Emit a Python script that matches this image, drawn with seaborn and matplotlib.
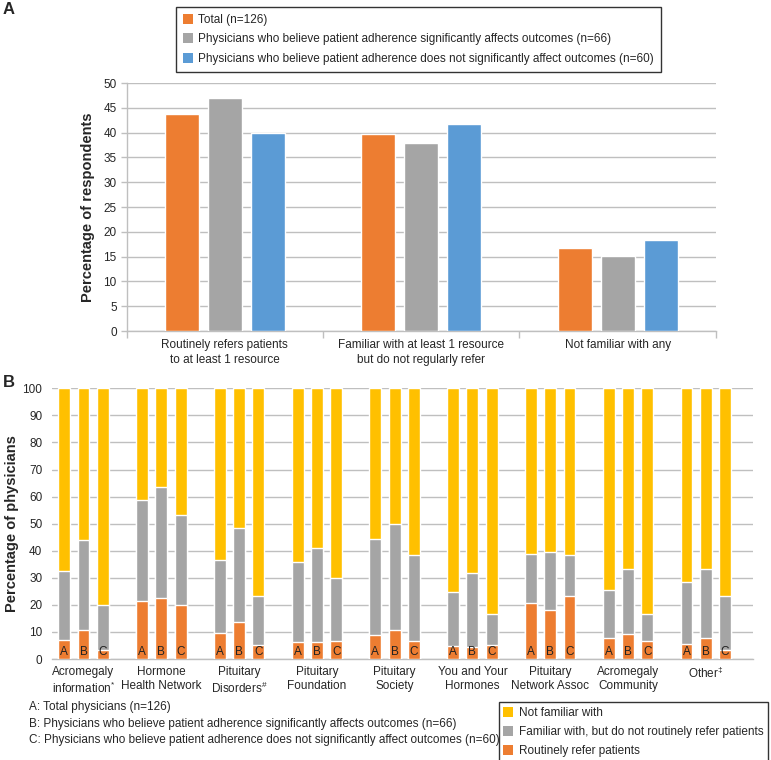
import numpy as np
import pandas as pd
import matplotlib
matplotlib.use("Agg")
import matplotlib.pyplot as plt
import seaborn as sns
from matplotlib import font_manager
from matplotlib.patches import Patch

# ---------------- Panel A data ----------------
a_categories = ["Routinely refers patients\nto at least 1 resource",
                "Familiar with at least 1 resource\nbut do not regularly refer",
                "Not familiar with any"]
a_groups = ["Total (n=126)",
            "Physicians who believe patient adherence significantly affects outcomes (n=66)",
            "Physicians who believe patient adherence does not significantly affect outcomes (n=60)"]
a_total = [43.7, 39.7, 16.7]
a_sig = [47.0, 37.9, 15.2]
a_notsig = [40.0, 41.7, 18.3]
a_yticks = list(range(0, 51, 5))

# ---------------- Panel B data ----------------
b_resources = ["Acromegaly\ninformation$^{*}$", "Hormone\nHealth Network", "Pituitary\nDisorders$^{\\#}$",
               "Pituitary\nFoundation", "Pituitary\nSociety", "You and Your\nHormones",
               "Pituitary\nNetwork Assoc", "Acromegaly\nCommunity", "Other$^{\\ddag}$"]
b_groups = ["A", "B", "C"]
# Routinely refer patients (orange)
refer_A = [7.1, 21.4, 9.5, 6.3, 8.7, 4.8, 20.6, 7.9, 5.6]
refer_B = [10.6, 22.7, 13.6, 6.1, 10.6, 4.5, 18.2, 9.1, 7.6]
refer_C = [3.3, 20.0, 5.0, 6.7, 6.7, 5.0, 23.3, 6.7, 3.3]
# Familiar with, but do not routinely refer (grey)
familiar_A = [25.4, 37.3, 27.0, 29.4, 35.7, 19.8, 18.3, 17.5, 23.0]
familiar_B = [33.3, 40.9, 34.9, 34.8, 39.4, 27.3, 21.2, 24.2, 25.7]
familiar_C = [16.7, 33.3, 18.3, 23.3, 31.6, 11.7, 15.0, 10.0, 20.0]
b_yticks = list(range(0, 101, 10))
b_notes = ["A: Total physicians (n=126)",
           "B: Physicians who believe patient adherence significantly affects outcomes (n=66)",
           "C: Physicians who believe patient adherence does not significantly affect outcomes (n=60)"]
b_legend = ["Not familiar with", "Familiar with, but do not routinely refer patients", "Routinely refer patients"]

ORANGE, GREY, BLUE, YELLOW = "#ED7D31", "#A5A5A5", "#5B9BD5", "#FFC000"
GRID = "#BFBFBF"

sns.set_theme(style="white")
avail = {f.name for f in font_manager.fontManager.ttflist}
NARROW = "Liberation Sans Narrow" if "Liberation Sans Narrow" in avail else "Liberation Sans"
plt.rcParams["font.family"] = ["Liberation Sans", "DejaVu Sans"]
plt.rcParams["mathtext.fontset"] = "custom"
plt.rcParams["mathtext.rm"] = NARROW
plt.rcParams["mathtext.it"] = NARROW

W, H = 771, 760
fig = plt.figure(figsize=(W / 100, H / 100), dpi=100)

def ax_rect(l, t, r, b):
    return [l / W, 1 - b / H, (r - l) / W, (b - t) / H]

# ---------------- Panel A ----------------
axA = fig.add_axes(ax_rect(126.5, 83, 716, 331))
dfA = pd.DataFrame({
    "category": np.repeat(a_categories, 3),
    "group": a_groups * 3,
    "value": [v for trio in zip(a_total, a_sig, a_notsig) for v in trio],
})
sns.barplot(data=dfA, x="category", y="value", hue="group", hue_order=a_groups,
            palette=[ORANGE, GREY, BLUE], saturation=1, width=0.657, gap=0.21,
            errorbar=None, legend=False, ax=axA, zorder=3)
axA.set_xlim(-0.5, 2.5)
axA.set_ylim(0, 50)
axA.set_yticks(a_yticks)
axA.yaxis.grid(True, color=GRID, lw=1)
axA.set_axisbelow(True)
for s in ["top", "right"]:
    axA.spines[s].set_visible(False)
for s in ["left", "bottom"]:
    axA.spines[s].set_color(GRID)
    axA.spines[s].set_linewidth(1)
axA.set_xlabel("")
axA.set_ylabel("Percentage of respondents", fontsize=10.5, fontweight="bold")
axA.yaxis.set_label_coords((95 - 126.5) / 589.5, 0.5)
axA.tick_params(axis="y", which="major", left=True, length=4, color=GRID, width=1,
                labelsize=8.5, pad=3)
axA.set_xticks(range(3))
axA.set_xticklabels(a_categories, fontsize=8.5, family=NARROW, linespacing=1.3)
axA.tick_params(axis="x", which="major", length=0, pad=6)
axA.set_xticks([-0.5, 0.5, 1.5, 2.5], minor=True)
axA.tick_params(axis="x", which="minor", bottom=True, length=5, color=GRID, width=1)

fig.legend(handles=[Patch(facecolor=c, edgecolor="none") for c in [ORANGE, GREY, BLUE]],
           labels=a_groups, loc="upper left", bbox_to_anchor=(176 / W, 1 - 7 / H),
           frameon=True, fancybox=False, edgecolor="#333333", framealpha=1,
           prop={"family": NARROW, "size": 8.5}, handlelength=0.8, handleheight=0.9,
           handletextpad=0.5, labelspacing=0.62, borderpad=0.6, borderaxespad=0)

fig.text(3 / W, 1 - 10 / H, "A", fontsize=12, fontweight="bold", va="center", ha="left")

# ---------------- Panel B ----------------
axB = fig.add_axes(ax_rect(52, 388.3, 753, 659))
refer = {"A": refer_A, "B": refer_B, "C": refer_C}
familiar = {"A": familiar_A, "B": familiar_B, "C": familiar_C}
rows = []
for g in b_groups:
    for i, r in enumerate(b_resources):
        rows.append({"resource": r, "group": g, "refer": refer[g][i],
                     "familiar": familiar[g][i]})
dfB = pd.DataFrame(rows)
dfB["fam_top"] = dfB["refer"] + dfB["familiar"]
dfB["not_familiar"] = 100 - dfB["fam_top"]
dfB["all_top"] = dfB["fam_top"] + dfB["not_familiar"]

for col, color in [("all_top", YELLOW), ("fam_top", GREY), ("refer", ORANGE)]:
    sns.barplot(data=dfB, x="resource", y=col, hue="group", hue_order=b_groups,
                order=b_resources, palette=[color] * 3, saturation=1,
                width=0.744, gap=0.38, errorbar=None, legend=False, ax=axB, zorder=3)

for cont, letter in zip(axB.containers[-3:], b_groups):
    for bar in cont:
        axB.text(bar.get_x() + bar.get_width() / 2, 2.6, letter, ha="center", va="center",
                 fontsize=8.5, color="#222222", zorder=5)

axB.set_xlim(-0.405, 8.607)
axB.set_ylim(0, 100)
axB.set_yticks(b_yticks)
axB.yaxis.grid(True, color=GRID, lw=1)
axB.set_axisbelow(True)
for s in ["top", "right", "left"]:
    axB.spines[s].set_visible(False)
axB.spines["bottom"].set_color(GRID)
axB.spines["bottom"].set_linewidth(1)
axB.set_xlabel("")
axB.set_ylabel("Percentage of physicians", fontsize=10.5, fontweight="bold")
axB.yaxis.set_label_coords((19 - 52) / 701, 0.5)
axB.tick_params(axis="y", left=False, labelsize=8.5, pad=1)
axB.set_xticks(range(len(b_resources)))
axB.set_xticklabels(b_resources, fontsize=8.5, family=NARROW, linespacing=1.25, va="top")
axB.tick_params(axis="x", length=0, pad=5)

fig.text(3 / W, 1 - 383 / H, "B", fontsize=12, fontweight="bold", va="center", ha="left")

for i, note in enumerate(b_notes):
    fig.text(29 / W, 1 - (707 + 16.5 * i) / H, note, fontsize=8.5, family=NARROW,
             va="center", ha="left")

fig.legend(handles=[Patch(facecolor=c, edgecolor="none") for c in [YELLOW, GREY, ORANGE]],
           labels=b_legend, loc="upper right", bbox_to_anchor=(768 / W, 1 - 702 / H),
           frameon=True, fancybox=False, edgecolor="#333333", framealpha=1,
           prop={"family": NARROW, "size": 8.5}, handlelength=0.8, handleheight=0.9,
           handletextpad=0.5, labelspacing=0.6, borderpad=0.4, borderaxespad=0)

fig.savefig("out.png", dpi=100)
